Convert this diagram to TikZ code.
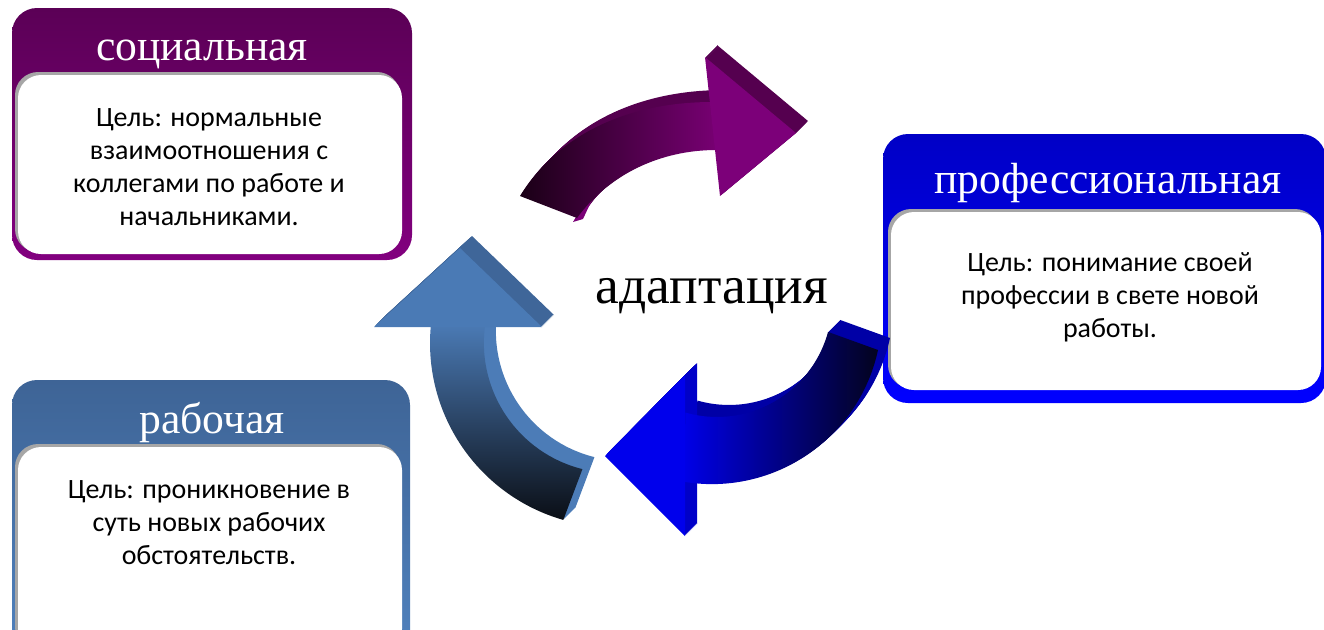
\documentclass[tikz,border=0pt]{standalone}
\usepackage{fontspec}
\setmainfont{Liberation Serif}
\newfontfamily\bodyfont{Carlito}
\definecolor{socTop}{HTML}{5B0056}
\definecolor{socBot}{HTML}{82007F}
\definecolor{proTop}{HTML}{0000C6}
\definecolor{proBot}{HTML}{0000FF}
\definecolor{wrkTop}{HTML}{3E6496}
\definecolor{wrkBot}{HTML}{5082BE}
\definecolor{shadowgray}{HTML}{A6A6A6}
\definecolor{purHead}{HTML}{7C0079}
\definecolor{purSide}{HTML}{55004F}
\definecolor{purSliver}{HTML}{7A0076}
\definecolor{purDark}{HTML}{1A0016}
\definecolor{purLight}{HTML}{770072}
\definecolor{bluHead}{HTML}{0000EC}
\definecolor{bluSide}{HTML}{0000C8}
\definecolor{bluShaftSide}{HTML}{0000A6}
\definecolor{bluDark}{HTML}{03031E}
\definecolor{bluLight}{HTML}{0000E6}
\definecolor{stlHead}{HTML}{4A7AB5}
\definecolor{stlSide}{HTML}{3F6699}
\definecolor{stlShaftSide}{HTML}{4C7CB7}
\definecolor{stlDark}{HTML}{0A0E15}
\definecolor{stlLight}{HTML}{4A79B3}
\newcommand\steelshaftpath[1]{\path[#1] (563.3,519.9) arc[start angle=106,end angle=185.3,radius=184] -- (485,326) arc[start angle=187.5,end angle=104,radius=130] -- cycle;}
\newcommand\steelheadpath[1]{\path[#1] (374,327) -- (460,248) -- (542,327) -- cycle;}
\newcommand\purpleshaftpath[1]{\path[#1] (520,196) .. controls (560,131) and (633,102) .. (712,102) -- (716,150) .. controls (661,150) and (609,174) .. (577,218) -- cycle;}
\newcommand\purpleheadpath[1]{\path[#1] (705,57) -- (796,133) -- (720,196) -- cycle;}
\newcommand\blueshaftpath[1]{\path[#1] (878,350) arc[start angle=12.2,end angle=99.1,radius=170] -- (685.3,412.5) arc[start angle=106,end angle=15.1,radius=115] -- cycle;}
\newcommand\blueheadpath[1]{\path[#1] (685,375) -- (605,456) -- (685,536) -- cycle;}
\begin{document}
\begin{tikzpicture}[x=0.01cm,y=-0.01cm,
  title/.style={font=\fontsize{12.4}{15}\selectfont, text=white, anchor=base, inner sep=0pt},
  body/.style={font=\bodyfont\fontsize{7.95}{9.4}\selectfont, align=center, text=black, inner sep=0pt},
  outerbox/.style={rounded corners=2.5mm},
  innerbox/.style={rounded corners=2.3mm}]
\useasboundingbox (0,0) rectangle (1324,629);
\begin{scope}
\clip (0,0) rectangle (1324,629);
% social box
\shade[outerbox, top color=socTop, bottom color=socBot] (12,8) rectangle (412,260);
\fill[innerbox, shadowgray] (15,72) rectangle (400,252);
\fill[innerbox, white] (18,75) rectangle (402,254);
% professional box
\shade[outerbox, top color=proTop, bottom color=proBot] (883,134) rectangle (1326,403);
\fill[innerbox, shadowgray] (888,209) rectangle (1318,388);
\fill[innerbox, white] (891,212) rectangle (1321,390);
% work box
\shade[outerbox, top color=wrkTop, bottom color=wrkBot] (12,380) rectangle (410,660);
\fill[innerbox, shadowgray] (15,444) rectangle (400,650);
\fill[innerbox, white] (18,447) rectangle (402,652);
% purple arrow
\foreach \s in {1,...,12}{
  \purpleshaftpath{fill=purSide, shift={(\s,-\s)}}
  \purpleheadpath{fill=purSide, shift={(\s,-\s)}}
}
\fill[purSliver] (573,222) -- (583,219) .. controls (590,204) and (596,190) .. (607,179) -- (599,178) -- cycle;
\purpleshaftpath{left color=purDark, right color=purLight}
\purpleheadpath{fill=purHead}
% blue arrow
\foreach \s in {1,...,12}{
  \blueshaftpath{fill=bluShaftSide, shift={(\s,-\s)}}
}
\foreach \s in {1,...,12}{
  \blueheadpath{fill=bluSide, shift={(\s,-\s)}}
}
\blueshaftpath{left color=bluLight, right color=bluDark}
\blueheadpath{fill=bluHead}
% steel arrow
\foreach \s in {1,...,12}{
  \steelshaftpath{fill=stlShaftSide, shift={(\s,-\s)}}
}
\foreach \s in {1,...,12}{
  \steelheadpath{fill=stlSide, shift={(\s,-\s)}}
}
\steelshaftpath{top color=stlLight, bottom color=stlDark}
\steelheadpath{fill=stlHead}
\end{scope}
% texts
\node[title] (soctitle) at (202,60) {социальная};
\node[title] (protitle) at (1108,193) {профессиональная};
\node[title] (wrktitle) at (212,433) {рабочая};
\node[body] (soctext) at (209,167) {Цель: нормальные\\взаимоотношения с\\коллегами по работе и\\начальниками.};
\node[body] (protext) at (1110,297) {Цель: понимание своей\\профессии в свете новой\\работы.};
\node[body] (wrktext) at (209,523) {Цель: проникновение в\\суть новых рабочих\\обстоятельств.};
\node[font=\fontsize{15.2}{18}\selectfont, anchor=base, inner sep=0pt] (adapt) at (712,303) {адаптация};
\end{tikzpicture}
\end{document}
